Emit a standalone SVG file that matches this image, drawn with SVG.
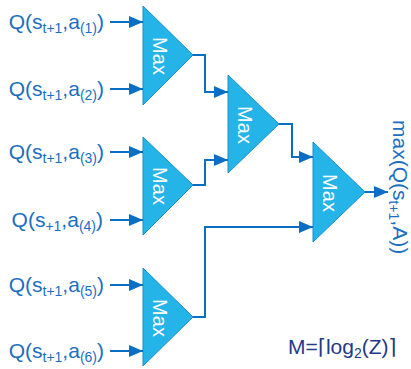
<svg xmlns="http://www.w3.org/2000/svg" width="411" height="369" viewBox="0 0 411 369">
<style>
.tri{fill:#25b4e8;stroke:#1a8fd0;stroke-width:1}
.mx{font-family:"Liberation Sans",Arial,sans-serif;font-size:20px;fill:#ffffff}
.lbl{font-family:"Liberation Sans",Arial,sans-serif;font-size:21px;fill:#1a6fc0}
.sub{font-size:14px}
.wire{fill:none;stroke:#0a6fc2;stroke-width:2;marker-end:url(#ah)}
.formula{font-family:"Liberation Sans","DejaVu Sans",Arial,sans-serif;font-size:21px;fill:#1f3b87}
</style>
<defs>
<marker id="ah" markerUnits="userSpaceOnUse" markerWidth="15" markerHeight="13" refX="14" refY="6" orient="auto">
<path d="M0,0 L14,6 L0,12 z" fill="#0a6fc2"/>
</marker>
</defs>
<g id="in1"><text class="lbl" x="104" y="29" text-anchor="end">Q(s<tspan class="sub" dy="4">t+1</tspan><tspan dy="-4">,a</tspan><tspan class="sub" dy="4">(1)</tspan><tspan dy="-4">)</tspan></text></g>
<g id="in2"><text class="lbl" x="104" y="96" text-anchor="end">Q(s<tspan class="sub" dy="4">t+1</tspan><tspan dy="-4">,a</tspan><tspan class="sub" dy="4">(2)</tspan><tspan dy="-4">)</tspan></text></g>
<g id="in3"><text class="lbl" x="104" y="159" text-anchor="end">Q(s<tspan class="sub" dy="4">t+1</tspan><tspan dy="-4">,a</tspan><tspan class="sub" dy="4">(3)</tspan><tspan dy="-4">)</tspan></text></g>
<g id="in4"><text class="lbl" x="103" y="227" text-anchor="end">Q(s<tspan class="sub" dy="4">+1</tspan><tspan dy="-4">,a</tspan><tspan class="sub" dy="4">(4)</tspan><tspan dy="-4">)</tspan></text></g>
<g id="in5"><text class="lbl" x="104" y="292" text-anchor="end">Q(s<tspan class="sub" dy="4">t+1</tspan><tspan dy="-4">,a</tspan><tspan class="sub" dy="4">(5)</tspan><tspan dy="-4">)</tspan></text></g>
<g id="in6"><text class="lbl" x="104" y="358" text-anchor="end">Q(s<tspan class="sub" dy="4">t+1</tspan><tspan dy="-4">,a</tspan><tspan class="sub" dy="4">(6)</tspan><tspan dy="-4">)</tspan></text></g>
<g id="max1"><path class="tri" d="M143,6 L193,55 L143,105 z"/><text class="mx" text-anchor="middle" transform="translate(153,56) rotate(90)">Max</text></g>
<g id="max2"><path class="tri" d="M143,137 L193,185 L143,235 z"/><text class="mx" text-anchor="middle" transform="translate(153,186) rotate(90)">Max</text></g>
<g id="max3"><path class="tri" d="M143,268 L193,317 L143,366 z"/><text class="mx" text-anchor="middle" transform="translate(153,318) rotate(90)">Max</text></g>
<g id="max4"><path class="tri" d="M228,75 L279,124 L228,173 z"/><text class="mx" text-anchor="middle" transform="translate(238,125) rotate(90)">Max</text></g>
<g id="max5"><path class="tri" d="M313,142 L365,192 L313,242 z"/><text class="mx" text-anchor="middle" transform="translate(323,193) rotate(90)">Max</text></g>
<g id="connectors">
<path class="wire" d="M110,22 H143"/>
<path class="wire" d="M110,89 H143"/>
<path class="wire" d="M110,152 H143"/>
<path class="wire" d="M110,220 H143"/>
<path class="wire" d="M110,285 H143"/>
<path class="wire" d="M110,351 H143"/>
<path class="wire" d="M193,55 H205 V92 H228"/>
<path class="wire" d="M193,185 H205 V160 H228"/>
<path class="wire" d="M279,124 H292 V157 H313"/>
<path class="wire" d="M193,317 H205 V227 H313"/>
<path class="wire" d="M365,192 H388"/>
</g>
<g id="output"><text class="lbl" transform="translate(393,120) rotate(90)">max(Q(s<tspan class="sub" dy="4">t+1</tspan><tspan dy="-4">,A))</tspan></text></g>
<g id="formula"><text class="formula" x="288" y="354">M=⌈log<tspan class="sub" dy="4">2</tspan><tspan dy="-4">(Z)⌉</tspan></text></g>
</svg>
